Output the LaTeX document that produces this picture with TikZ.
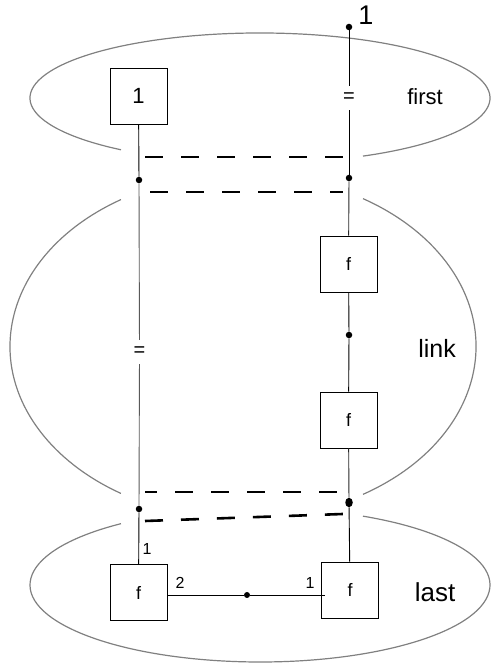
\documentclass[tikz,border=0pt]{standalone}
\usepackage{fontspec}
\setmainfont{Liberation Sans}
\usetikzlibrary{shapes.geometric,calc}
\begin{document}
\begin{tikzpicture}[x=1pt,y=1pt,
 box/.style={draw, line width=0.8pt, minimum width=57pt, minimum height=56pt, inner sep=0pt},
 dot/.style={circle, fill, inner sep=0pt, minimum size=6.5pt},
 eq/.style={inner sep=0pt, minimum height=24pt, minimum width=12pt, font=\fontsize{20}{20}\selectfont},
 wire/.style={line width=0.9pt},
 gwire/.style={line width=0.9pt, draw=black!65},
 dashline/.style={line width=2pt, dash pattern=on 18pt off 18pt},
 blob/.style={draw=black!50, line width=1.2pt}]
\useasboundingbox (0,0) rectangle (490,663);
% ellipses
\draw[blob] (260,565) ++(296.6:230pt and 65pt) arc[start angle=296.6, end angle=592.8, x radius=230pt, y radius=65pt];
\draw[blob] (243,316.5) ++(121.6:233pt and 172.5pt) arc[start angle=121.6, end angle=238.4, x radius=233pt, y radius=172.5pt];
\draw[blob] (243,316.5) ++(301:233pt and 172.5pt) arc[start angle=301, end angle=419, x radius=233pt, y radius=172.5pt];
\draw[blob] (260,78) ++(127.2:230pt and 77pt) arc[start angle=127.2, end angle=423.4, x radius=230pt, y radius=77pt];
% nodes
\node[box, font=\fontsize{22}{22}\selectfont] (one) at (138.5,567) {1};
\node[dot] (t) at (349,636) {};
\node[font=\fontsize{27}{27}\selectfont] (tl) at (366,648) {1};
\node[eq] (eq1) at (349,565) {=};
\node[dot] (r1) at (349,485) {};
\node[dot] (l1) at (139,483) {};
\node[eq] (eq2) at (139.5,311) {=};
\node[box, font=\fontsize{18}{18}\selectfont] (fa) at (348.5,399) {f};
\node[dot] (m) at (349,328) {};
\node[box, font=\fontsize{18}{18}\selectfont] (fb) at (348.5,243) {f};
\node[ellipse, fill, inner sep=0pt, minimum width=7.5pt, minimum height=9.5pt] (r2) at (349,160.5) {};
\node[dot] (l2) at (139,154) {};
\node[box, font=\fontsize{18}{18}\selectfont] (fc) at (138.5,70.5) {f};
\node[box, font=\fontsize{18}{18}\selectfont] (fd) at (350,73) {f};
\node[dot, minimum size=6pt] (hd) at (247,68) {};
% labels
\node[font=\fontsize{16}{16}\selectfont] (lc) at (147,114) {1};
\node[font=\fontsize{16}{16}\selectfont] (l2lab) at (180,80) {2};
\node[font=\fontsize{16}{16}\selectfont] (l1lab) at (310,80) {1};
\node[font=\fontsize{22}{22}\selectfont] (first) at (425,566) {first};
\node[font=\fontsize{25}{25}\selectfont] (link) at (437,315) {link};
\node[font=\fontsize{26}{26}\selectfont] (last) at (435,71) {last};
% wires
\draw[wire] (t) -- (eq1);
\draw[wire] (eq1) -- (r1);
\draw[wire] (one) -- (l1);
\draw[gwire] (l1) -- (eq2);
\draw[gwire] (eq2) -- (l2);
\draw[wire, draw=black!85] (r1) -- (fa);
\draw[wire] (fa) -- (m);
\draw[wire] (m) -- (fb);
\draw[wire, draw=black!85] (fb) -- (r2);
\draw[wire] (r2) -- (fd);
\draw[wire] (l2) -- (fc);
\coordinate (he) at ($(fd.west |- hd)+(4,0)$);
\draw[wire] (fc.east |- hd) -- (hd) -- (he);
% dashed links
\coordinate (d1a) at (145,506); \coordinate (d1b) at (343,506);
\coordinate (d2a) at (150,471); \coordinate (d2b) at (343,471);
\coordinate (d3a) at (145,171); \coordinate (d3b) at (337,171);
\coordinate (d4a) at (145,142); \coordinate (d4b) at (343,149);
\draw[dashline] (d1a) -- (d1b);
\draw[dashline] (d2a) -- (d2b);
\draw[dashline, dash phase=6pt] (d3a) -- (d3b);
\draw[dashline, line width=2.6pt] (d4a) -- (d4b);
\end{tikzpicture}
\end{document}
